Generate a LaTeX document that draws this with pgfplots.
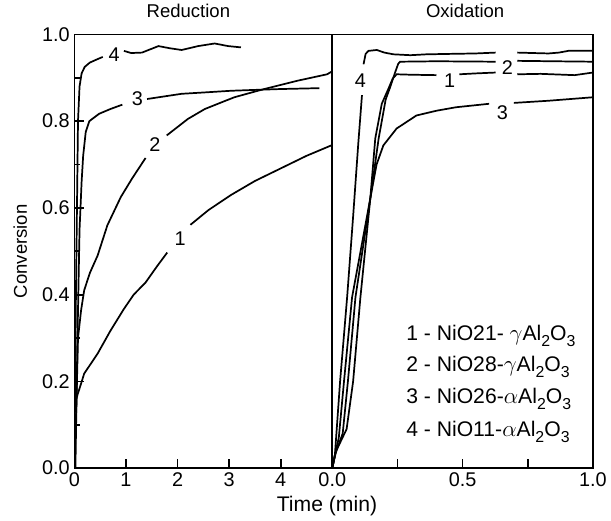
\documentclass[border=0pt]{standalone}
\usepackage{pgfplots}
\pgfplotsset{compat=1.18}
\usepackage{fontspec}
\setmainfont{Liberation Sans}
\newcommand{\sub}[1]{\raisebox{-0.5ex}{\fontsize{12}{12}\selectfont #1}}

\begin{document}
\begin{tikzpicture}
\tikzset{lbl/.style={font=\fontsize{15}{17}\selectfont}}
\pgfplotsset{
  kin/.style={
    scale only axis, height=328pt, ymin=0, ymax=1,
    axis line style={line width=1.3pt},
    tick style={line width=1.3pt, black},
    major tick length=7pt, minor tick length=4pt,
    tick align=inside, xtick pos=bottom, ytick pos=left,
    tick label style={font=\fontsize{15}{17}\selectfont},
    /pgf/number format/assume math mode=true,
    title style={font=\fontsize{14}{16}\selectfont, anchor=base, yshift=6.5pt},
    every axis plot post/.append style={black, solid, line width=1.3pt, mark=none},
  },
}
% left panel: reduction
\begin{axis}[kin, name=red, width=195pt,
  xmin=0, xmax=5, xtick={0,1,2,3,4},
  ytick={0,0.2,0.4,0.6,0.8,1}, minor ytick={0.1,0.3,0.5,0.7,0.9},
  yticklabel style={/pgf/number format/.cd, fixed, fixed zerofill, precision=1},
  ylabel={Conversion},
  ylabel style={font=\fontsize{14}{16}\selectfont, at={(axis description cs:-0.21,0.5)}, anchor=center},
  title={Reduction}, title style={at={(0.442,1)}}]
% 1
\addplot coordinates {(0.04,0.16) (0.06,0.169) (0.13,0.195) (0.19,0.218) (0.45,0.264) (0.7,0.317) (0.96,0.367) (1.15,0.40) (1.38,0.428) (1.6,0.465) (1.8,0.497)};
\addplot coordinates {(2.25,0.561) (2.6,0.595) (3.04,0.63) (3.5,0.662) (4.0,0.691) (4.5,0.72) (4.98,0.744)};
% 2
\addplot coordinates {(0,0) (0.04,0.15) (0.07,0.3) (0.13,0.364) (0.19,0.41) (0.3,0.45) (0.45,0.49) (0.64,0.56) (0.74,0.585) (0.9,0.625) (1.12,0.668) (1.38,0.715)};
\addplot coordinates {(1.79,0.767) (2.2,0.805) (2.53,0.828) (3.1,0.855) (3.68,0.874) (4.32,0.893) (4.9,0.908) (5.0,0.915)};
% 3
\addplot coordinates {(0.02,0) (0.06,0.3) (0.1,0.55) (0.14,0.66) (0.17,0.72) (0.22,0.775) (0.29,0.80) (0.48,0.817) (0.7,0.828) (0.93,0.838)};
\addplot coordinates {(1.41,0.851) (1.8,0.858) (2.08,0.863) (2.5,0.866) (3.04,0.870) (3.5,0.872) (4.0,0.874) (4.75,0.876)};
% 4
\addplot coordinates {(0,0) (0.03,0.4) (0.07,0.8) (0.1,0.88) (0.14,0.91) (0.2,0.925) (0.3,0.935) (0.45,0.943) (0.55,0.948)};
\addplot coordinates {(0.96,0.962) (1.1,0.957) (1.31,0.958) (1.63,0.973) (1.85,0.968) (2.08,0.964) (2.4,0.973) (2.72,0.979) (2.98,0.973) (3.23,0.970)};
\node[lbl] at (axis cs:0.77,0.954) {4};
\node[lbl] at (axis cs:1.22,0.851) {3};
\node[lbl] at (axis cs:1.56,0.745) {2};
\node[lbl] at (axis cs:2.05,0.53) {1};
\end{axis}
% right panel: oxidation
\begin{axis}[kin, name=ox, at={(red.south east)}, anchor=south west, width=197pt,
  xmin=0, xmax=1, xtick={0,0.25,0.5,0.75,1}, xticklabels={0.0,,0.5,,1.0},
  ytick=\empty, title={Oxidation}, title style={at={(0.51,1)}}]
% 1
\addplot coordinates {(0,0) (0.015,0.04) (0.055,0.09) (0.08,0.2) (0.108,0.394) (0.146,0.622) (0.165,0.76) (0.19,0.84) (0.215,0.874) (0.232,0.898) (0.247,0.908) (0.3,0.907) (0.4,0.906)};
\addplot coordinates {(0.488,0.908) (0.55,0.91) (0.627,0.912)};
\addplot coordinates {(0.71,0.908) (0.8,0.909) (0.93,0.906) (1.0,0.912)};
% 2
\addplot coordinates {(0,0) (0.01,0.03) (0.04,0.08) (0.06,0.2) (0.089,0.394) (0.146,0.622) (0.178,0.76) (0.205,0.85) (0.222,0.878) (0.241,0.912) (0.253,0.932) (0.26,0.937) (0.4,0.938) (0.627,0.937)};
\addplot coordinates {(0.71,0.939) (0.85,0.938) (1.0,0.937)};
% 3
\addplot coordinates {(0,0) (0.01,0.03) (0.025,0.07) (0.045,0.2) (0.076,0.394) (0.146,0.622) (0.17,0.70) (0.196,0.744) (0.247,0.783) (0.323,0.813) (0.4,0.824) (0.475,0.832) (0.602,0.84)};
\addplot coordinates {(0.697,0.842) (0.83,0.847) (1.0,0.855)};
% 4
\addplot coordinates {(0,0) (0.01,0.03) (0.03,0.2) (0.057,0.394) (0.08,0.58) (0.1,0.75) (0.114,0.86)};
\addplot coordinates {(0.12,0.931) (0.128,0.955) (0.139,0.962) (0.171,0.964) (0.2,0.958) (0.235,0.954) (0.3,0.952) (0.361,0.954) (0.45,0.955) (0.55,0.956) (0.627,0.958)};
\addplot coordinates {(0.71,0.958) (0.83,0.956) (0.87,0.958) (0.906,0.962) (1.0,0.962)};
\node[lbl] at (axis cs:0.108,0.893) {4};
\node[lbl] at (axis cs:0.45,0.893) {1};
\node[lbl] at (axis cs:0.672,0.924) {2};
\node[lbl] at (axis cs:0.653,0.82) {3};
\begin{scope}[every node/.style={font=\fontsize{16}{18}\selectfont, anchor=base west}]
\node at (rel axis cs:0.266,0.294) {1 - NiO21- $\gamma$Al\sub{2}O\sub{3}};
\node at (rel axis cs:0.266,0.222) {2 - NiO28-$\gamma$Al\sub{2}O\sub{3}};
\node at (rel axis cs:0.266,0.149) {3 - NiO26-$\alpha$Al\sub{2}O\sub{3}};
\node at (rel axis cs:0.266,0.073) {4 - NiO11-$\alpha$Al\sub{2}O\sub{3}};
\end{scope}
\end{axis}
\node[font=\fontsize{16}{18}\selectfont] at ([xshift=-4pt,yshift=-29pt]red.south east) {Time (min)};
\path (-56.25pt,-39.75pt) rectangle (402pt,354pt);
\end{tikzpicture}
\end{document}
